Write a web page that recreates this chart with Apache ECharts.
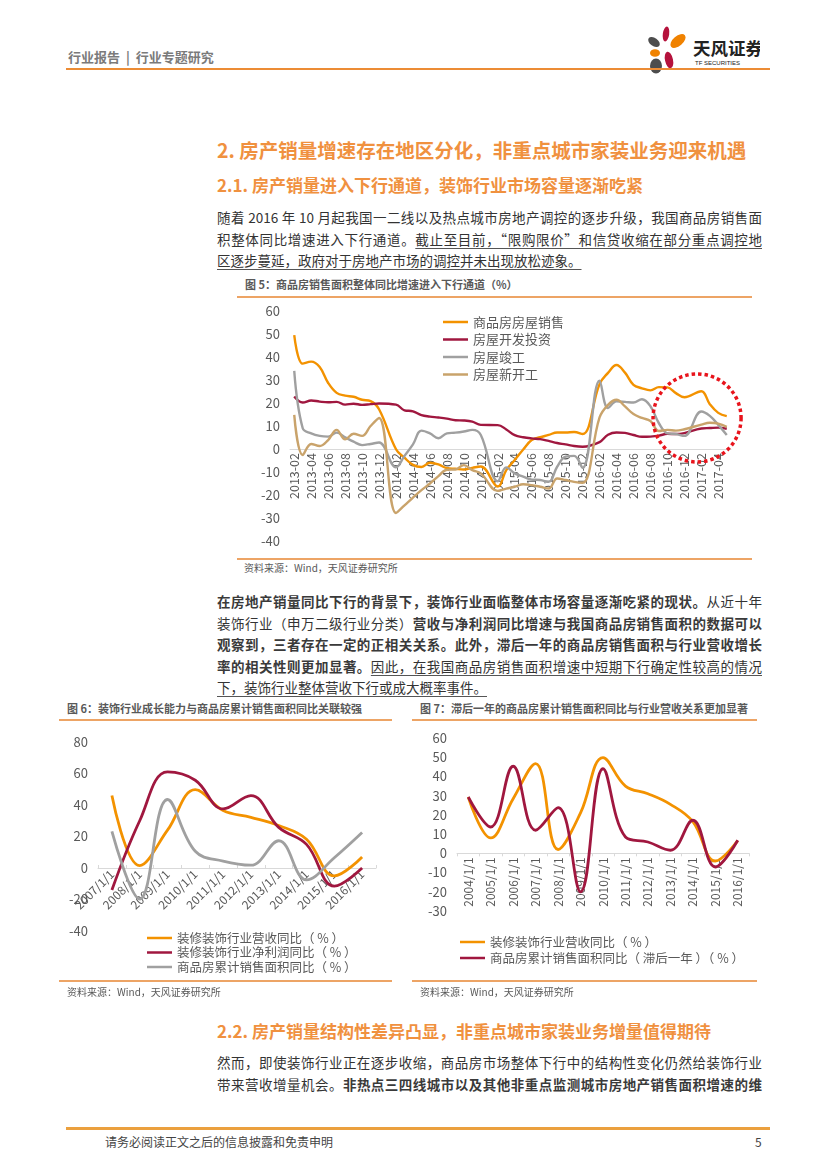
<!DOCTYPE html>
<html><head><meta charset="utf-8">
<script src="https://cdn.jsdelivr.net/npm/echarts/dist/echarts.min.js"></script>
<style>
html,body{margin:0;padding:0;background:#fff;}
body{width:827px;height:1169px;position:relative;overflow:hidden;font-family:"Noto Sans CJK SC","Noto Sans",sans-serif;color:#333;}
.abs{position:absolute;white-space:nowrap;}
.rule{position:absolute;height:1.5px;background:#EDA465;}
.h1{font-size:19.5px;font-weight:700;color:#F0913F;line-height:24px;}
.h2{font-size:17px;font-weight:700;color:#F0913F;line-height:22px;}
.para{position:absolute;left:217px;width:545px;font-size:13.5px;line-height:21.5px;color:#333;}
.jl{text-align:justify;text-align-last:justify;}
.ll{text-align:left;}
.b{font-weight:700;color:#3a3a3a;}
.u{text-decoration:underline;text-decoration-color:#555;text-underline-offset:3px;}
.ct{font-size:11px;font-weight:700;color:#595959;line-height:14px;}
.src{font-size:10px;color:#595959;line-height:14px;}
.chart{position:absolute;}
</style></head>
<body>
<!-- header -->
<div class="abs" style="left:68px;top:48px;font-size:13px;line-height:18px;font-weight:700;color:#7a7a7a;">行业报告&nbsp;&nbsp;|&nbsp;&nbsp;行业专题研究</div>
<svg class="abs" style="left:640px;top:22px;" width="120" height="56" viewBox="0 0 120 56">
  <ellipse cx="14" cy="20" rx="6.5" ry="4" transform="rotate(35 14 20)" fill="#4d4d4d"/>
  <ellipse cx="26" cy="12" rx="3.2" ry="7.5" transform="rotate(8 26 12)" fill="#B5123C"/>
  <ellipse cx="38" cy="19" rx="5" ry="9" transform="rotate(50 38 19)" fill="#F08200"/>
  <ellipse cx="15" cy="31" rx="5" ry="3.8" fill="#F08200"/>
  <ellipse cx="29" cy="38" rx="4" ry="8.5" transform="rotate(-12 29 38)" fill="#B5123C"/>
  <ellipse cx="16" cy="44" rx="6" ry="7.5" fill="#4d4d4d"/>
  <text x="53" y="33" font-size="17.5" font-weight="700" fill="#222" font-family="Noto Sans CJK SC">天风证券</text>
  <text x="55" y="43" font-size="6" fill="#222" font-family="Liberation Sans">TF SECURITIES</text>
</svg>
<div class="abs" style="left:66px;top:68px;width:704px;height:2px;background:#EC8C35;"></div>

<div class="abs h1" style="left:217px;top:138px;">2. 房产销量增速存在地区分化，非重点城市家装业务迎来机遇</div>
<div class="abs h2" style="left:217px;top:174px;">2.1. 房产销量进入下行通道，装饰行业市场容量逐渐吃紧</div>

<div class="para" style="top:207px;">
<div class="jl">随着 2016 年 10 月起我国一二线以及热点城市房地产调控的逐步升级，我国商品房销售面</div>
<div class="jl">积整体同比增速进入下行通道。<span class="u">截止至目前，“限购限价”和信贷收缩在部分重点调控地</span></div>
<div class="ll"><span class="u">区逐步蔓延，政府对于房地产市场的调控并未出现放松迹象。</span></div>
</div>

<div class="abs ct" style="left:245px;top:277px;">图 5：商品房销售面积整体同比增速进入下行通道（%）</div>
<div class="rule" style="left:237px;top:296px;width:515px;"></div>
<div id="c1" class="chart" style="left:230px;top:300px;width:540px;height:255px;"></div>
<div class="rule" style="left:237px;top:558px;width:515px;"></div>
<div class="abs src" style="left:244px;top:561px;">资料来源：Wind，天风证券研究所</div>

<div class="para" style="top:591px;">
<div class="jl"><span class="b">在房地产销量同比下行的背景下，装饰行业面临整体市场容量逐渐吃紧的现状。</span>从近十年</div>
<div class="jl">装饰行业（申万二级行业分类）<span class="b">营收与净利润同比增速与我国商品房销售面积的数据可以</span></div>
<div class="jl"><span class="b">观察到，三者存在一定的正相关关系。此外，滞后一年的商品房销售面积与行业营收增长</span></div>
<div class="jl"><span class="b">率的相关性则更加显著。</span><span class="u">因此，在我国商品房销售面积增速中短期下行确定性较高的情况</span></div>
<div class="ll"><span class="u">下，装饰行业整体营收下行或成大概率事件。</span></div>
</div>

<div class="abs ct" style="left:67px;top:701px;">图 6：装饰行业成长能力与商品房累计销售面积同比关联较强</div>
<div class="rule" style="left:59px;top:719px;width:333px;"></div>
<div id="c6" class="chart" style="left:55px;top:722px;width:345px;height:260px;"></div>
<div class="rule" style="left:59px;top:980px;width:333px;"></div>
<div class="abs src" style="left:67px;top:985px;">资料来源：Wind，天风证券研究所</div>

<div class="abs ct" style="left:420px;top:701px;">图 7：滞后一年的商品房累计销售面积同比与行业营收关系更加显著</div>
<div class="rule" style="left:412px;top:719px;width:345px;"></div>
<div id="c7" class="chart" style="left:405px;top:722px;width:360px;height:260px;"></div>
<div class="rule" style="left:412px;top:980px;width:345px;"></div>
<div class="abs src" style="left:420px;top:985px;">资料来源：Wind，天风证券研究所</div>

<div class="abs h2" style="left:217px;top:1020px;">2.2. 房产销量结构性差异凸显，非重点城市家装业务增量值得期待</div>
<div class="para" style="top:1052px;">
<div class="jl">然而，即使装饰行业正在逐步收缩，商品房市场整体下行中的结构性变化仍然给装饰行业</div>
<div class="jl">带来营收增量机会。<span class="b">非热点三四线城市以及其他非重点监测城市房地产销售面积增速的维</span></div>
</div>

<div class="abs" style="left:66px;top:1127px;width:704px;height:2.5px;background:#EBA03E;"></div>
<div class="abs" style="left:105px;top:1133px;font-size:12px;line-height:18px;color:#444;">请务必阅读正文之后的信息披露和免责申明</div>
<div class="abs" style="left:755px;top:1133px;font-size:12px;line-height:18px;color:#444;">5</div>

<script>
// ---------- Figure 5 data (monthly, YTD yoy %, January has no data) ----------
const months5 = ['2013-02','2013-03','2013-04','2013-05','2013-06','2013-07','2013-08','2013-09','2013-10','2013-11','2013-12',
 '2014-01','2014-02','2014-03','2014-04','2014-05','2014-06','2014-07','2014-08','2014-09','2014-10','2014-11','2014-12',
 '2015-01','2015-02','2015-03','2015-04','2015-05','2015-06','2015-07','2015-08','2015-09','2015-10','2015-11','2015-12',
 '2016-01','2016-02','2016-03','2016-04','2016-05','2016-06','2016-07','2016-08','2016-09','2016-10','2016-11','2016-12',
 '2017-01','2017-02','2017-03','2017-04','2017-05'];
const sales5 = [49.5,37.1,38.0,35.6,28.7,24.4,23.2,22.7,21.4,20.8,17.3,null,-0.1,-3.8,-6.9,-7.8,-6.0,-6.7,-8.3,-8.6,-8.9,-8.2,-7.6,null,
 -16.3,-9.2,-4.8,-0.2,3.9,5.1,6.1,7.2,7.2,7.4,6.5,null,28.2,33.1,36.5,33.2,27.9,26.4,25.5,26.9,26.8,24.3,22.5,null,25.1,19.5,15.7,14.3];
const invest5 = [22.8,20.2,21.1,20.6,20.3,20.5,19.3,19.7,19.2,19.5,19.8,null,19.3,16.8,16.4,14.7,14.1,13.7,13.2,12.5,12.4,11.9,10.5,null,
 10.4,8.5,6.0,5.1,4.6,4.3,3.5,2.6,2.0,1.3,1.0,null,3.0,6.2,7.2,7.0,6.1,5.3,5.4,5.8,6.6,6.5,6.9,null,8.9,9.1,9.3,8.8];
const complete5 = [34,9,6.8,5.7,5.4,7.1,5.1,3.2,1.7,2.2,2.8,null,-8,-3,2,8,6.8,4.7,6.8,7.1,7.6,8.3,6.1,null,
 -14,-8,-10.6,-12,-13.3,-13.5,-14.3,-7.7,-3.3,-3,-8.2,null,29.7,17.8,20.7,20.5,20.2,21.6,18.6,11.2,6.8,6.5,5.7,null,16.3,14.4,10.5,6.1];
const newStart5 = [14.8,-2.6,2.2,1.3,3.9,8.3,4.2,6.6,5.7,10,13.5,null,-27.8,-24.5,-21.1,-17.9,-15,-11.8,-9,-8.9,-7,-9.2,-10.6,null,
 -18.2,-17.2,-16.4,-15.3,-15.7,-16.4,-17.2,-12.8,-13.5,-14.3,-14.7,null,13.7,19.2,21.4,18.5,15.2,13.5,12.2,7.8,8.3,8.0,8.6,null,10.6,11.4,11.0,9.6];
const names5 = ['商品房房屋销售','房屋开发投资','房屋竣工','房屋新开工'];

// ---------- Figure 6 data (annual yoy %) ----------
const years6 = ['2007/1/1','2008/1/1','2009/1/1','2010/1/1','2011/1/1','2012/1/1','2013/1/1','2014/1/1','2015/1/1','2016/1/1'];
const revenue6 = [46,1.5,24,49.7,36.5,32.2,27,18.3,-5,7];
const profit6 = [-14,30,61,55.7,37.5,46,25.8,15,-11.5,0];
const area6 = [23.2,-19.7,43.5,10.6,4.4,1.8,17.3,-7.6,6.5,22.5];
const names6 = ['装修装饰行业营收同比（ % ）','装修装饰行业净利润同比（ % ）','商品房累计销售面积同比（ % ）'];

// ---------- Figure 7 data ----------
const years7 = ['2004/1/1','2005/1/1','2006/1/1','2007/1/1','2008/1/1','2009/1/1','2010/1/1','2011/1/1','2012/1/1','2013/1/1','2014/1/1','2015/1/1','2016/1/1'];
const revenue7 = [29.3,8,28.4,46.7,2,21,49.8,35,31,25.5,16.5,-4,6.6];
const lagArea7 = [29.3,13.7,45.3,12,23.8,-20,44,8.5,5.9,1.6,17.2,-7.1,6.8];
const names7 = ['装修装饰行业营收同比（ % ）','商品房累计销售面积同比（ 滞后一年 ）（ % ）'];

const FONT = '"Noto Sans CJK SC","Noto Sans",sans-serif';
const ORANGE='#F39200', RED='#A0173F', GRAY='#A0A0A0', TAN='#C9A36B';

function ln(name,data,color,w){
  return {name:name,type:'line',data:data,smooth:0.4,symbol:'none',connectNulls:true,
    lineStyle:{color:color,width:w},itemStyle:{color:color}};
}
const lab = {color:'#595959',fontFamily:FONT};
function legend(names,left,top,gap,fs){
  return {orient:'vertical',left:left,top:top,padding:0,itemWidth:25,itemHeight:2.5,itemGap:gap,icon:'rect',
    textStyle:Object.assign({fontSize:fs,lineHeight:14},lab),data:names};
}
// put the category axis (line + labels) on the zero line of the value axis
function axisToZero(chart, gridBottomPx){
  const z = chart.convertToPixel({yAxisIndex:0}, 0);
  chart.setOption({xAxis:{offset: -(gridBottomPx - z)}});
}

// Figure 5
const c1 = echarts.init(document.getElementById('c1'));
c1.setOption({
  animation:false,
  textStyle:{fontFamily:FONT},
  grid:{left:60,right:39,top:11,bottom:14,containLabel:false,outerBoundsMode:'none'},
  legend:legend(names5,213,15,3.5,13),
  xAxis:{type:'category',data:months5,boundaryGap:true,
    axisLine:{onZero:false,lineStyle:{color:'#d9d9d9'}},axisTick:{show:false},
    axisLabel:Object.assign({interval:1,rotate:90,fontSize:12.5,margin:4},lab)},
  yAxis:{type:'value',min:-40,max:60,interval:10,splitLine:{show:false},axisLine:{show:false},axisTick:{show:false},
    axisLabel:Object.assign({fontSize:13,margin:10},lab)},
  series:[ln(names5[0],sales5,ORANGE,2.4),ln(names5[1],invest5,RED,2.4),ln(names5[2],complete5,GRAY,2.4),ln(names5[3],newStart5,TAN,2.4)]
});
axisToZero(c1, 255-14);
const pA = c1.convertToPixel({xAxisIndex:0,yAxisIndex:0},[47,13.5]);
const pB = c1.convertToPixel({xAxisIndex:0,yAxisIndex:0},[48,13.5]);
c1.setOption({graphic:[{type:'circle',shape:{cx:(pA[0]+pB[0])/2,cy:pA[1],r:44},
  style:{fill:'none',stroke:'#E8141C',lineWidth:3.5,lineDash:[3.5,3]},z:100}]});

// Figure 6
const c6 = echarts.init(document.getElementById('c6'));
c6.setOption({
  animation:false,
  textStyle:{fontFamily:FONT},
  grid:{left:43,right:24,top:20,bottom:51,containLabel:false,outerBoundsMode:'none'},
  legend:legend(names6,92,209,0.5,12.5),
  xAxis:{type:'category',data:years6,boundaryGap:true,
    axisLine:{onZero:false,lineStyle:{color:'#d9d9d9'}},axisTick:{show:true,inside:true,length:3,lineStyle:{color:'#d9d9d9'}},
    axisLabel:Object.assign({interval:0,rotate:45,fontSize:12,margin:4},lab)},
  yAxis:{type:'value',min:-40,max:80,interval:20,splitLine:{show:false},axisLine:{show:false},axisTick:{show:false},
    axisLabel:Object.assign({fontSize:13,margin:10},lab)},
  series:[ln(names6[0],revenue6,ORANGE,2.8),ln(names6[1],profit6,RED,2.8),ln(names6[2],area6,GRAY,2.8)]
});
axisToZero(c6, 260-51);

// Figure 7
const c7 = echarts.init(document.getElementById('c7'));
c7.setOption({
  animation:false,
  textStyle:{fontFamily:FONT},
  grid:{left:52,right:16,top:16,bottom:71,containLabel:false,outerBoundsMode:'none'},
  legend:legend(names7,55,213,2,12.5),
  xAxis:{type:'category',data:years7,boundaryGap:true,
    axisLine:{onZero:false,lineStyle:{color:'#d9d9d9'}},axisTick:{show:true,inside:false,length:3,lineStyle:{color:'#d9d9d9'}},
    axisLabel:Object.assign({interval:0,rotate:90,fontSize:12,margin:4},lab)},
  yAxis:{type:'value',min:-30,max:60,interval:10,splitLine:{show:false},axisLine:{show:false},axisTick:{show:false},
    axisLabel:Object.assign({fontSize:13,margin:10},lab)},
  series:[ln(names7[0],revenue7,ORANGE,2.8),ln(names7[1],lagArea7,RED,2.8)]
});
axisToZero(c7, 260-71);

// keep each justified text line on one line
document.querySelectorAll('.para > div').forEach(function(el){
  let fs = 13.5;
  while (el.getBoundingClientRect().height > 26 && fs > 10) { fs -= 0.25; el.style.fontSize = fs + 'px'; }
});
</script>
</body></html>
